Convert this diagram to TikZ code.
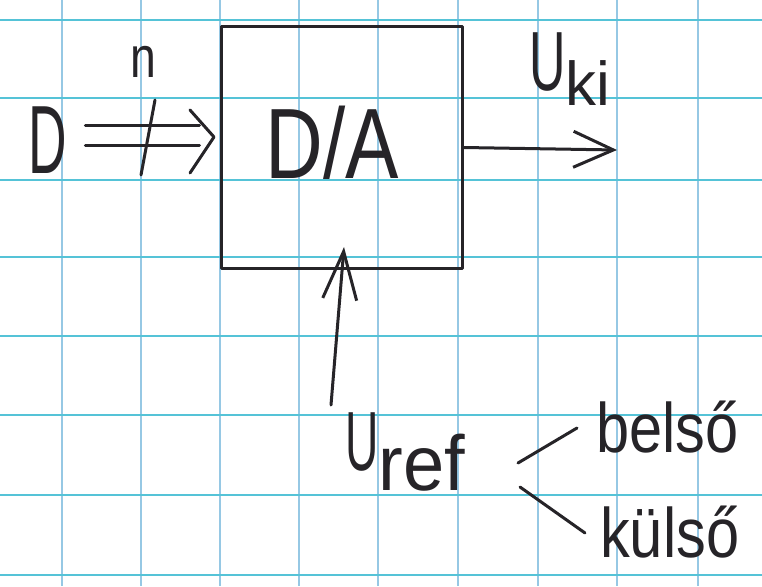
\documentclass[tikz,border=0pt]{standalone}
\usepackage{fontspec}
\setmainfont{Liberation Sans}
\usetikzlibrary{arrows.meta}
\definecolor{ink}{RGB}{38,36,40}
\definecolor{gridh}{RGB}{85,195,215}
\definecolor{gridv}{RGB}{150,200,228}
\begin{document}
\begin{tikzpicture}[x=1pt,y=-1pt,
  inkline/.style={draw=ink,line width=3pt,line cap=round,line join=round},
  lbl/.style={text=ink,inner sep=0pt},
  gh/.style={draw=gridh,line width=2pt},
  gv/.style={draw=gridv,line width=1.5pt}]
\useasboundingbox (0,0) rectangle (762,586);
\fill[white] (0,0) rectangle (762,586);
% grid paper
\foreach \x in {62,141,220,299,378,458,538,617,698} \draw[gv] (\x,0) -- (\x,586);
\foreach \y in {20,98,180,257,336,415,495,575} \draw[gh] (0,\y) -- (762,\y);
% block
\node[inkline,fill=none,minimum width=241pt,minimum height=241pt,inner sep=0pt] (box) at (341.5,147.5) {};
\node[lbl,font=\fontsize{100}{100}\selectfont] (DA) at (332,143) {\scalebox{0.8}[1]{D/A}};
% input
\node[lbl,font=\fontsize{97}{97}\selectfont] (D) at (48,140) {\scalebox{0.55}[1]{D}};
\node[lbl,font=\fontsize{58}{58}\selectfont] (n) at (143,62) {\scalebox{0.8}[1]{n}};
\draw[inkline,shorten <=18pt,shorten >=20pt] ([yshift=15pt]D.east) -- ([yshift=15pt]D.east -| box.west);
\draw[inkline,shorten <=18pt,shorten >=20pt] ([yshift=-5pt]D.east) -- ([yshift=-5pt]D.east -| box.west);
\coordinate (inTip) at (214,137);
\draw[inkline] (inTip) ++(-24,-27) -- (inTip) -- ++(-24,36);
\draw[inkline] (141,175) -- (155,100);
% output
\coordinate (out) at (617,150);
\draw[inkline,-{Straight Barb[length=40pt,width=36pt]}] (box.east) -- (out);
\node[lbl,anchor=base west] (Uki) at (529,90) {\scalebox{0.6}[1]{\fontsize{84}{84}\selectfont U}\raisebox{-15pt}{\fontsize{62}{62}\selectfont ki}};
% reference
\node[lbl,anchor=base west] (Uref) at (345,470) {\scalebox{0.55}[1]{\fontsize{84}{84}\selectfont U}\raisebox{-20pt}{\scalebox{0.95}[1]{\fontsize{78}{78}\selectfont ref}}};
\coordinate (refIn) at (331,405);
\coordinate (refTip) at (344,247);
\draw[inkline,-{Straight Barb[length=48pt,width=34pt]}] (refIn) -- (refTip);
\node[lbl,anchor=base west] (belso) at (596,452) {\scalebox{0.85}[1]{\fontsize{70}{70}\selectfont belső}};
\node[lbl,anchor=base west] (kulso) at (600,557) {\scalebox{0.85}[1]{\fontsize{70}{70}\selectfont külső}};
\coordinate (fb1) at (518,463);
\coordinate (fb2) at (577,428);
\coordinate (fk1) at (520,487);
\coordinate (fk2) at (585,533);
\draw[inkline] (fb1) -- (fb2);
\draw[inkline] (fk1) -- (fk2);
\end{tikzpicture}
\end{document}
